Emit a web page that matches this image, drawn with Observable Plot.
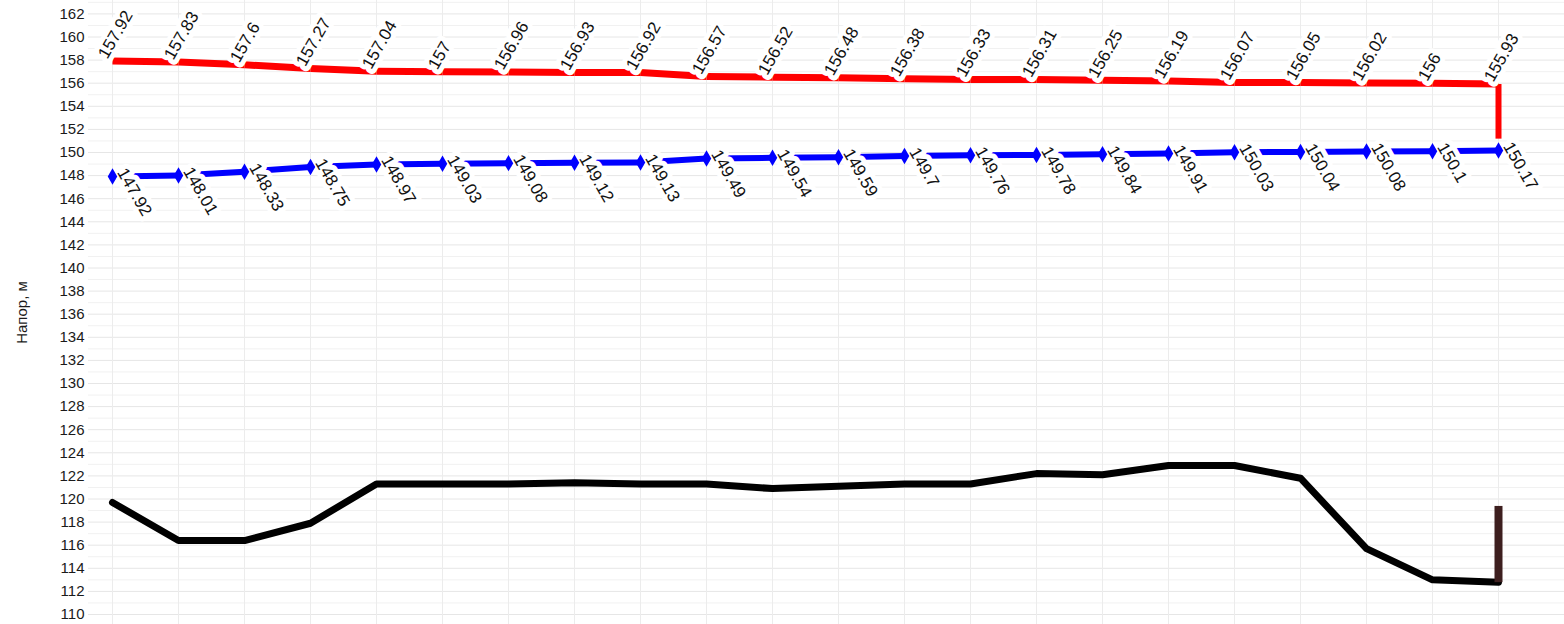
<!DOCTYPE html>
<html>
<head>
<meta charset="utf-8">
<script src="https://cdn.jsdelivr.net/npm/d3@7"></script>
<script src="https://cdn.jsdelivr.net/npm/@observablehq/plot@0.6"></script>
<style>
  html, body { margin: 0; padding: 0; background: #fff; }
  #chart svg { display: block; font-family: "Liberation Sans", Arial, sans-serif; }
</style>
</head>
<body>
<div id="chart"></div>
<script>
// Station indices along the route
const stations = d3.range(1, 23);
// Supply head (red), return head (blue), ground profile (black)
const supplyHead = [157.92, 157.83, 157.6, 157.27, 157.04, 157, 156.96, 156.93, 156.92, 156.57, 156.52,
                    156.48, 156.38, 156.33, 156.31, 156.25, 156.19, 156.07, 156.05, 156.02, 156, 155.93];
const returnHead = [147.92, 148.01, 148.33, 148.75, 148.97, 149.03, 149.08, 149.12, 149.13, 149.49, 149.54,
                    149.59, 149.7, 149.76, 149.78, 149.84, 149.91, 150.03, 150.04, 150.08, 150.1, 150.17];
const ground = [119.7, 116.4, 116.4, 117.9, 121.3, 121.3, 121.3, 121.4, 121.3, 121.3, 120.9,
                121.1, 121.3, 121.3, 122.2, 122.1, 122.9, 122.9, 121.8, 115.7, 113.0, 112.8];
// End-point connectors (last station)
const supplyDrop = [155.93, 151.2];
const wellTop = [119.4];
const yTicks = d3.range(110, 163, 2);
const yGrid = d3.range(110, 164, 1);
const yTitle = ["Напор, м"];

const rows = stations.map((s, k) => ({s, red: supplyHead[k], blue: returnHead[k], ground: ground[k]}));
const segs = rows.slice(0, -1).map((d, k) => ({
  x1: d.s, x2: rows[k + 1].s, r1: d.red, r2: rows[k + 1].red, b1: d.blue, b2: rows[k + 1].blue
}));
const last = rows[rows.length - 1];

const chart = Plot.plot({
  width: 1564,
  height: 624,
  marginLeft: 88,
  marginRight: 0,
  marginTop: 0,
  marginBottom: 0,
  x: {type: "linear", domain: [1 - 24 / 66, 23], axis: null},
  y: {domain: [110, 162], range: [614, 13.4], axis: null},
  style: {fontFamily: "Liberation Sans, Arial, sans-serif", background: "#fff"},
  marks: [
    Plot.gridY(yGrid, {stroke: d => d % 2 === 0 ? "#e6e6e6" : "#f1f1f1", strokeOpacity: 1}),
    Plot.gridX(stations, {stroke: "#ececec", strokeOpacity: 1}),
    Plot.axisY(yTicks, {tickSize: 0, tickPadding: 4, fontSize: 15, fill: "#1a1a1a", label: null}),
    Plot.text(yTitle, {frameAnchor: "left", textAnchor: "middle", rotate: -90, dx: -66, fontSize: 15, fill: "#1a1a1a"}),
    Plot.line(rows, {x: "s", y: "ground", stroke: "#000", strokeWidth: 7, strokeLinejoin: "round"}),
    Plot.link([{x: last.s, y1: last.ground, y2: wellTop[0]}], {
      x1: "x", x2: "x", y1: "y1", y2: "y2", stroke: "#3d1f1f", strokeWidth: 8
    }),
    Plot.link(segs, {x1: "x1", x2: "x2", y1: "r1", y2: "r2", stroke: "#ff0000", strokeWidth: 7}),
    Plot.link([{x: last.s, y1: supplyDrop[0], y2: supplyDrop[1]}], {
      x1: "x", x2: "x", y1: "y1", y2: "y2", stroke: "#ff0000", strokeWidth: 6
    }),
    Plot.link(segs, {x1: "x1", x2: "x2", y1: "b1", y2: "b2", stroke: "#0000ff", strokeWidth: 6}),
    Plot.text(rows, {
      x: "s", y: "red", text: d => `${d.red}`, rotate: -60, textAnchor: "start", lineAnchor: "middle",
      dx: -10, dy: -4, fontSize: 17, fill: "#111", stroke: "#fff", strokeWidth: 10, strokeLinejoin: "round"
    }),
    Plot.text(rows, {
      x: "s", y: "blue", text: d => `${d.blue}`, rotate: 60, textAnchor: "start", lineAnchor: "middle",
      dx: 9, dy: -7, fontSize: 17, fill: "#111", stroke: "#fff", strokeWidth: 10, strokeLinejoin: "round"
    }),
    Plot.dot(rows, {x: "s", y: "blue", symbol: "diamond", fill: "#0000ff", r: 5})
  ]
});
document.getElementById("chart").appendChild(chart);
</script>
</body>
</html>
